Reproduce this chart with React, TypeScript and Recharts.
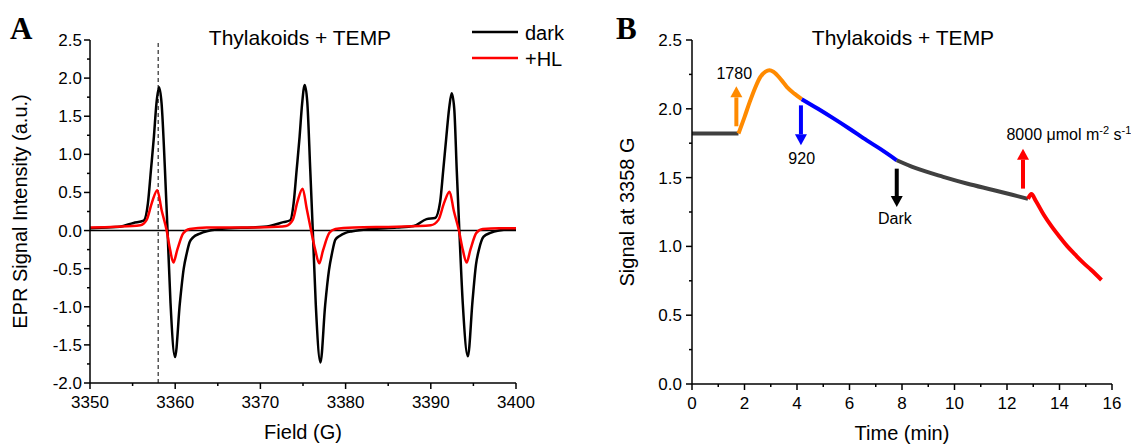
import { Legend, Line, LineChart, ReferenceDot, ReferenceLine, XAxis, YAxis } from "recharts";

const FONT = '"Liberation Sans", Arial, sans-serif';

// ---- panel A: EPR spectra (field in G, signal in a.u.) ----
const darkField = [
  3350, 3352, 3353.5, 3355.1, 3356.3, 3356.8, 3357.15, 3357.5, 3357.8, 3358.1, 3358.4, 3358.8, 3359.1,
  3359.45, 3359.98, 3360.55, 3361.0, 3361.35, 3361.7, 3362.1, 3362.9, 3363.7, 3366.4, 3369, 3371.1,
  3372.7, 3373.5, 3373.9, 3374.25, 3374.6, 3374.9, 3375.2, 3375.5, 3375.85, 3376.15, 3376.5, 3377.05,
  3377.6, 3378.05, 3378.4, 3378.8, 3379.3, 3380, 3380.8, 3383, 3386, 3388, 3389.5, 3390.5, 3391.1,
  3391.45, 3391.8, 3392.15, 3392.45, 3392.75, 3393.05, 3393.35, 3393.75, 3394.35, 3394.9, 3395.3,
  3395.65, 3396.2, 3397, 3398, 3400,
];
const darkSignal = [
  0.03, 0.04, 0.05, 0.1, 0.13, 0.36, 0.79, 1.23, 1.67, 1.88, 1.67, 0.79, 0.0,
  -0.95, -1.66, -0.95, -0.5, -0.3, -0.15, -0.09, -0.04, -0.01, 0.03, 0.04, 0.06,
  0.11, 0.135, 0.36, 0.79, 1.23, 1.67, 1.91, 1.69, 0.8, 0.0, -0.97, -1.73,
  -0.98, -0.52, -0.3, -0.12, -0.07, -0.03, -0.01, 0.02, 0.04, 0.06, 0.15, 0.165, 0.38,
  0.78, 1.2, 1.6, 1.8, 1.6, 0.78, 0.0, -0.95, -1.65, -0.92, -0.45,
  -0.25, -0.08, -0.03, 0.0, 0.02,
];
const hlField = [
  3350, 3353, 3355.9, 3356.65, 3357.25, 3357.9, 3358.4, 3359.0, 3359.4, 3359.78, 3360.25, 3360.95,
  3361.7, 3363.7, 3368, 3372, 3373, 3373.8, 3374.35, 3374.95, 3375.45, 3375.95, 3376.45, 3376.9,
  3377.35, 3378.1, 3378.8, 3381, 3386, 3390, 3390.9, 3391.55, 3392.2, 3392.7, 3393.3, 3393.75,
  3394.2, 3394.65, 3395.35, 3396.1, 3398, 3400,
];
const hlSignal = [
  0.04, 0.05, 0.07, 0.14, 0.36, 0.53, 0.27, 0.0, -0.25, -0.42, -0.25, -0.035,
  0.02, 0.04, 0.04, 0.05, 0.06, 0.14, 0.38, 0.55, 0.28, 0.0, -0.26, -0.43,
  -0.26, -0.03, 0.02, 0.04, 0.05, 0.07, 0.14, 0.36, 0.51, 0.26, 0.0, -0.25,
  -0.42, -0.25, -0.03, 0.02, 0.03, 0.03,
];
const legendItems = [
  { label: "dark", color: "#000000" },
  { label: "+HL", color: "#ff0000" },
];
const fieldMajor = [3350, 3360, 3370, 3380, 3390, 3400];
const fieldAll = [3350, 3355, 3360, 3365, 3370, 3375, 3380, 3385, 3390, 3395, 3400];
const eprMajor = [-2, -1.5, -1, -0.5, 0, 0.5, 1, 1.5, 2, 2.5];
const eprAll = [-2, -1.75, -1.5, -1.25, -1, -0.75, -0.5, -0.25, 0, 0.25, 0.5, 0.75, 1, 1.25, 1.5, 1.75, 2, 2.25, 2.5];

// ---- panel B: signal at 3358 G vs time (min) ----
const darkStartTime = [0, 0.5, 1.0, 1.5, 1.77];
const darkStartSignal = [1.82, 1.82, 1.82, 1.82, 1.82];
const light1780Time = [1.77, 2.0, 2.2, 2.4, 2.6, 2.8, 2.95, 3.1, 3.4, 3.61, 3.9, 4.18];
const light1780Signal = [1.82, 1.94, 2.05, 2.15, 2.23, 2.27, 2.28, 2.27, 2.21, 2.16, 2.11, 2.07];
const light920Time = [4.18, 4.8, 5.39, 6.0, 6.66, 7.2, 7.8];
const light920Signal = [2.07, 2.0, 1.93, 1.855, 1.77, 1.705, 1.626];
const darkEndTime = [7.8, 8.5, 9.57, 10.5, 11.47, 12.2, 12.8];
const darkEndSignal = [1.626, 1.57, 1.505, 1.455, 1.41, 1.375, 1.345];
const light8000Time = [12.8, 12.93, 13.1, 13.4, 13.7, 14.0, 14.3, 14.6, 14.9, 15.2, 15.6];
const light8000Signal = [1.345, 1.38, 1.33, 1.23, 1.145, 1.07, 1.0, 0.94, 0.882, 0.83, 0.756];
const timeMajor = [0, 2, 4, 6, 8, 10, 12, 14, 16];
const timeAll = [0, 1, 2, 3, 4, 5, 6, 7, 8, 9, 10, 11, 12, 13, 14, 15, 16];
const sigMajor = [0, 0.5, 1, 1.5, 2, 2.5];
const sigAll = [0, 0.25, 0.5, 0.75, 1, 1.25, 1.5, 1.75, 2, 2.25, 2.5];

// arrows: time, from, to
const arrows = [
  { t: 1.69, from: 1.873, to: 2.163, color: "#ff8a00" },
  { t: 4.15, from: 2.025, to: 1.735, color: "#0000ff" },
  { t: 7.8, from: 1.565, to: 1.286, color: "#000000" },
  { t: 12.61, from: 1.42, to: 1.71, color: "#ff0000" },
];
const notes = [
  { t: 1.61, v: 2.214, text: "1780" },
  { t: 4.18, v: 1.6, text: "920" },
  { t: 7.73, v: 1.16, text: "Dark" },
];

const zip = (xs: number[], ys: number[], kx: string, ky: string) =>
  xs.map((x, i) => ({ [kx]: x, [ky]: ys[i] }));

const darkData = zip(darkField, darkSignal, "field", "signal");
const hlData = zip(hlField, hlSignal, "field", "signal");

const TICK = 6;
const MINOR = 3;

function bottomTick(majors: number[], margin: number) {
  return (props: any) => {
    const { x, y, payload } = props;
    const major = majors.includes(payload.value);
    const axisY = y - TICK - margin;
    return (
      <g>
        <line x1={x} x2={x} y1={axisY} y2={axisY + (major ? TICK : MINOR)} stroke="#000" strokeWidth={1.5} />
        {major && (
          <text x={x} y={y} dy="0.71em" textAnchor="middle" fontSize={17} fontFamily={FONT} fill="#000">
            {String(payload.value)}
          </text>
        )}
      </g>
    );
  };
}

function leftTick(majors: number[], margin: number) {
  return (props: any) => {
    const { x, y, payload } = props;
    const major = majors.includes(payload.value);
    const axisX = x + TICK + margin;
    return (
      <g>
        <line x1={axisX} x2={axisX - (major ? TICK : MINOR)} y1={y} y2={y} stroke="#000" strokeWidth={1.5} />
        {major && (
          <text x={x} y={y} dy="0.35em" textAnchor="end" fontSize={17} fontFamily={FONT} fill="#000">
            {payload.value.toFixed(1)}
          </text>
        )}
      </g>
    );
  };
}

function arrowShape(color: string) {
  return (props: any) => {
    const { x1, y1, x2, y2 } = props;
    const dir = y2 > y1 ? 1 : -1;
    const head = 11;
    return (
      <g>
        <line x1={x1} y1={y1} x2={x2} y2={y2 - dir * head} stroke={color} strokeWidth={4} />
        <polygon points={`${x2 - 6},${y2 - dir * head} ${x2 + 6},${y2 - dir * head} ${x2},${y2}`} fill={color} />
      </g>
    );
  };
}

const axisLabelStyle = { fontSize: 20, fontFamily: FONT, fill: "#000", textAnchor: "middle" as const };

function LegendBox() {
  return (
    <svg width={110} height={60} style={{ display: "block" }}>
      {legendItems.map((it, i) => (
        <g key={i}>
          <line x1={4} x2={50} y1={14 + i * 26} y2={14 + i * 26} stroke={it.color} strokeWidth={2.5} />
          <text x={57} y={22 + i * 26} fontSize={20} fontFamily={FONT} fill="#000">
            {it.label}
          </text>
        </g>
      ))}
    </svg>
  );
}

function PanelA() {
  return (
    <LineChart width={560} height={444} margin={{ top: 40, right: 44, bottom: 5, left: 10 }}>
      <XAxis
        dataKey="field"
        type="number"
        domain={[3350, 3400]}
        ticks={fieldAll}
        interval={0}
        height={56}
        tickLine={false}
        tickSize={TICK}
        tickMargin={7}
        tick={bottomTick(fieldMajor, 7)}
        axisLine={{ stroke: "#000", strokeWidth: 1.5 }}
        label={{ value: "Field (G)", position: "insideBottom", offset: 0, style: axisLabelStyle }}
      />
      <YAxis
        type="number"
        domain={[-2, 2.5]}
        ticks={eprAll}
        interval={0}
        width={80}
        tickLine={false}
        tickSize={TICK}
        tickMargin={2}
        tick={leftTick(eprMajor, 2)}
        axisLine={{ stroke: "#000", strokeWidth: 1.5 }}
        label={{ value: "EPR Signal Intensity (a.u.)", angle: -90, position: "insideLeft", offset: 10, style: axisLabelStyle }}
      />
      <ReferenceLine y={0} stroke="#000" strokeWidth={1.5} />
      <ReferenceLine x={3358} stroke="#000" strokeWidth={1} strokeDasharray="4 3" />
      <Line data={darkData} dataKey="signal" name="dark" type="monotone" stroke="#000000" strokeWidth={2.5} dot={false} isAnimationActive={false} />
      <Line data={hlData} dataKey="signal" name="+HL" type="monotone" stroke="#ff0000" strokeWidth={2.5} dot={false} isAnimationActive={false} />
      <Legend
        layout="vertical"
        align="center"
        verticalAlign="middle"
        content={<LegendBox />}
        wrapperStyle={{ left: 468, top: 18, width: 110, height: 60 }}
      />
    </LineChart>
  );
}

function PanelB() {
  const segs = [
    { t: darkStartTime, v: darkStartSignal, color: "#404040" },
    { t: light1780Time, v: light1780Signal, color: "#ff8a00" },
    { t: light920Time, v: light920Signal, color: "#0000ff" },
    { t: darkEndTime, v: darkEndSignal, color: "#404040" },
    { t: light8000Time, v: light8000Signal, color: "#ff0000" },
  ];
  return (
    <LineChart width={551} height={444} margin={{ top: 40, right: 19, bottom: 4, left: 10 }}>
      <XAxis
        dataKey="t"
        type="number"
        domain={[0, 16]}
        ticks={timeAll}
        interval={0}
        height={56}
        tickLine={false}
        tickSize={TICK}
        tickMargin={7}
        tick={bottomTick(timeMajor, 7)}
        axisLine={{ stroke: "#000", strokeWidth: 1.5 }}
        label={{ value: "Time (min)", position: "insideBottom", offset: 0, style: axisLabelStyle }}
      />
      <YAxis
        type="number"
        domain={[0, 2.5]}
        ticks={sigAll}
        interval={0}
        width={102}
        tickLine={false}
        tickSize={TICK}
        tickMargin={4}
        tick={leftTick(sigMajor, 4)}
        axisLine={{ stroke: "#000", strokeWidth: 1.5 }}
        label={{ value: "Signal at 3358 G", angle: -90, position: "insideLeft", offset: 37, style: axisLabelStyle }}
      />
      {segs.map((s, i) => (
        <Line
          key={i}
          data={zip(s.t, s.v, "t", "v")}
          dataKey="v"
          type="monotone"
          stroke={s.color}
          strokeWidth={4}
          dot={false}
          isAnimationActive={false}
        />
      ))}
      {arrows.map((a, i) => (
        <ReferenceLine
          key={"a" + i}
          segment={[
            { x: a.t, y: a.from },
            { x: a.t, y: a.to },
          ]}
          stroke={a.color}
          shape={arrowShape(a.color)}
        />
      ))}
      {notes.map((n, i) => (
        <ReferenceDot
          key={"n" + i}
          x={n.t}
          y={n.v}
          r={1}
          fill="none"
          stroke="none"
          shape={(p: any) => (
            <text x={p.cx} y={p.cy} textAnchor="middle" fontSize={16} fontFamily={FONT} fill="#000">
              {n.text}
            </text>
          )}
        />
      ))}
      <ReferenceDot
        x={11.98}
        y={1.77}
        r={1}
        fill="none"
        stroke="none"
        shape={(p: any) => (
          <text x={p.cx} y={p.cy} textAnchor="start" fontSize={16} fontFamily={FONT} fill="#000">
            8000 μmol m
            <tspan dy={-6} fontSize={11}>-2</tspan>
            <tspan dy={6}> s</tspan>
            <tspan dy={-6} fontSize={11}>-1</tspan>
          </text>
        )}
      />
    </LineChart>
  );
}

const titleStyle = {
  position: "absolute" as const,
  top: 27,
  fontFamily: FONT,
  fontSize: 21,
  lineHeight: "21px",
  transform: "translateX(-50%)",
  whiteSpace: "nowrap" as const,
};
const letterStyle = {
  position: "absolute" as const,
  top: 13,
  fontFamily: '"Liberation Serif", "Times New Roman", serif',
  fontWeight: 700,
  fontSize: 31,
  lineHeight: "31px",
};

export default function App() {
  return (
    <div style={{ position: "absolute", left: 0, top: 0, width: 1131, height: 444, background: "#fff", overflow: "hidden" }}>
      <div style={{ position: "absolute", left: 0, top: 0 }}>
        <PanelA />
      </div>
      <div style={{ position: "absolute", left: 580, top: 0 }}>
        <PanelB />
      </div>
      <div style={{ ...letterStyle, left: 10 }}>A</div>
      <div style={{ ...letterStyle, left: 616 }}>B</div>
      <div style={{ ...titleStyle, left: 300 }}>Thylakoids + TEMP</div>
      <div style={{ ...titleStyle, left: 903 }}>Thylakoids + TEMP</div>
    </div>
  );
}
